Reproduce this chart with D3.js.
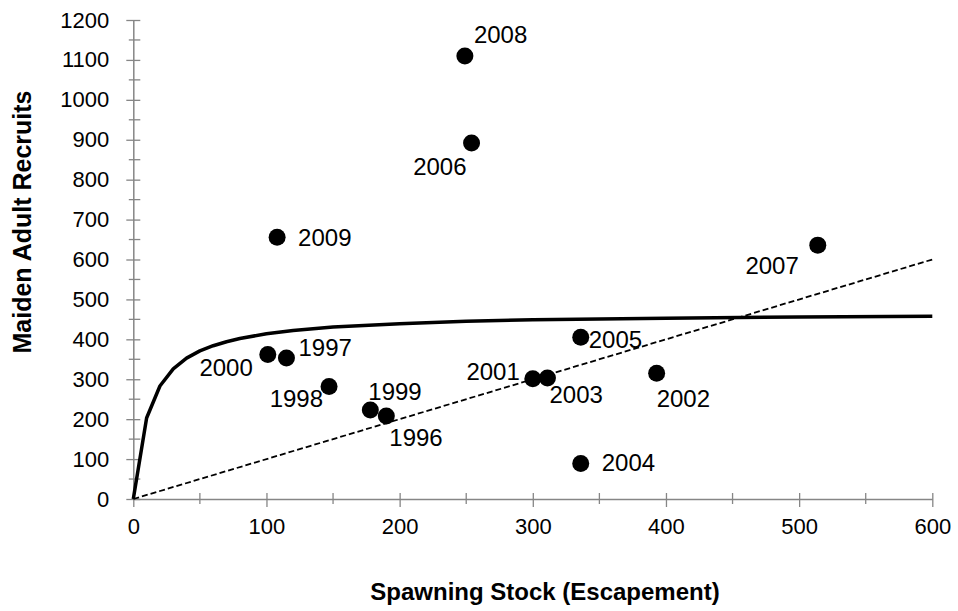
<!DOCTYPE html>
<html>
<head>
<meta charset="utf-8">
<script src="https://cdn.jsdelivr.net/npm/d3@7/dist/d3.min.js"></script>
<style>
  html, body { margin: 0; padding: 0; background: #fff; }
  svg { display: block; font-family: "Liberation Sans", Arial, sans-serif; }
</style>
</head>
<body>
<svg id="chart" width="958" height="611"></svg>
<script>
// Brood years with their spawning stock (escapement) and maiden adult recruits
const years    = [1996, 1997, 1998, 1999, 2000, 2001, 2002, 2003, 2004, 2005, 2006, 2007, 2008, 2009];
const stock    = [190, 115, 147, 178, 101, 300, 393, 311, 336, 336, 254, 514, 249, 108];
const recruits = [208, 353, 282, 223, 362, 301, 315, 303, 89, 405, 892, 636, 1110, 656];

// Fitted stock-recruit curve (points along the line)
const curveStock    = [0, 10, 20, 30, 40, 50, 60, 70, 80, 100, 120, 150, 200, 250, 300, 400, 500, 600];
const curveRecruits = [0, 203, 283, 326, 353, 371, 384, 394, 402, 414, 422, 431, 439, 445, 449, 453, 456, 458];

// One-to-one replacement line
const replacementStock    = [0, 600];
const replacementRecruits = [0, 600];

// Axis ticks
const xTicks = [0, 100, 200, 300, 400, 500, 600];
const yTicks = [0, 100, 200, 300, 400, 500, 600, 700, 800, 900, 1000, 1100, 1200];
const xMinor = [50, 150, 250, 350, 450, 550];
const yMinor = [50, 150, 250, 350, 450, 550, 650, 750, 850, 950, 1050, 1150];

// Year-label placement around each dot: [dx, dy, anchor]
const labelPlacement = {
  1996: [3, 30, "start"],
  1997: [12, -2, "start"],
  1998: [-6, 21, "end"],
  1999: [-2, -10, "start"],
  2000: [-15, 21, "end"],
  2001: [-13, 1, "end"],
  2002: [0, 34, "start"],
  2003: [2, 25, "start"],
  2004: [21, 8, "start"],
  2005: [8, 11, "start"],
  2006: [-5, 32, "end"],
  2007: [-19, 29, "end"],
  2008: [9, -13, "start"],
  2009: [21, 9, "start"]
};

const svg = d3.select("#chart");
const axisColor = "#868686";

const x = d3.scaleLinear().domain([0, 600]).range([133.3, 932.3]);
const y = d3.scaleLinear().domain([0, 1200]).range([499, 20]);

// Minor ticks
svg.append("g").selectAll("line").data(xMinor).join("line")
  .attr("x1", d => x(d)).attr("x2", d => x(d))
  .attr("y1", y(0) - 6).attr("y2", y(0) + 5)
  .attr("stroke", axisColor).attr("stroke-width", 1.3);
svg.append("g").selectAll("line").data(yMinor).join("line")
  .attr("y1", d => y(d)).attr("y2", d => y(d))
  .attr("x1", x(0) - 4.5).attr("x2", x(0) + 7)
  .attr("stroke", axisColor).attr("stroke-width", 1.3);

// X axis
const xAxis = svg.append("g")
  .attr("transform", `translate(0,${y(0)})`)
  .call(d3.axisBottom(x).tickValues(xTicks).tickFormat(d3.format("d"))
    .tickSizeInner(8).tickSizeOuter(0).tickPadding(11));
xAxis.select(".domain").attr("stroke", axisColor).attr("stroke-width", 1.5);
xAxis.selectAll(".tick line").attr("stroke", axisColor).attr("stroke-width", 1.3).attr("y1", -6);
xAxis.selectAll(".tick text").attr("font-size", 22).attr("fill", "#000")
  .attr("font-family", "Liberation Sans, Arial, sans-serif");

// Y axis
const yAxis = svg.append("g")
  .attr("transform", `translate(${x(0)},0)`)
  .call(d3.axisLeft(y).tickValues(yTicks).tickFormat(d3.format("d"))
    .tickSizeInner(7).tickSizeOuter(0).tickPadding(17));
yAxis.select(".domain").attr("stroke", axisColor).attr("stroke-width", 1.5);
yAxis.selectAll(".tick line").attr("stroke", axisColor).attr("stroke-width", 1.3).attr("x2", 7).attr("x1", -7);
yAxis.selectAll(".tick text").attr("font-size", 22).attr("fill", "#000")
  .attr("font-family", "Liberation Sans, Arial, sans-serif");

// Replacement line (dashed)
const line = d3.line().x(d => x(d[0])).y(d => y(d[1]));
svg.append("path")
  .datum(d3.zip(replacementStock, replacementRecruits))
  .attr("d", line)
  .attr("fill", "none").attr("stroke", "#000").attr("stroke-width", 1.8)
  .attr("stroke-dasharray", "6,3");

// Stock-recruit curve
svg.append("path")
  .datum(d3.zip(curveStock, curveRecruits))
  .attr("d", line)
  .attr("fill", "none").attr("stroke", "#000").attr("stroke-width", 3.5)
  .attr("stroke-linejoin", "round");

// Observations
const points = years.map((yr, i) => ({ year: yr, s: stock[i], r: recruits[i] }));
svg.append("g").selectAll("circle").data(points).join("circle")
  .attr("cx", d => x(d.s)).attr("cy", d => y(d.r)).attr("r", 8.5)
  .attr("fill", "#000");

svg.append("g").selectAll("text").data(points).join("text")
  .attr("x", d => x(d.s) + labelPlacement[d.year][0])
  .attr("y", d => y(d.r) + labelPlacement[d.year][1])
  .attr("text-anchor", d => labelPlacement[d.year][2])
  .attr("font-size", 24).attr("fill", "#000")
  .text(d => d.year);

// Axis titles
svg.append("text")
  .attr("x", 545).attr("y", 600)
  .attr("text-anchor", "middle")
  .attr("font-size", 24).attr("font-weight", "bold")
  .text("Spawning Stock (Escapement)");

svg.append("text")
  .attr("transform", "translate(31,222) rotate(-90)")
  .attr("text-anchor", "middle")
  .attr("font-size", 25).attr("font-weight", "bold")
  .text("Maiden Adult Recruits");
</script>
</body>
</html>
